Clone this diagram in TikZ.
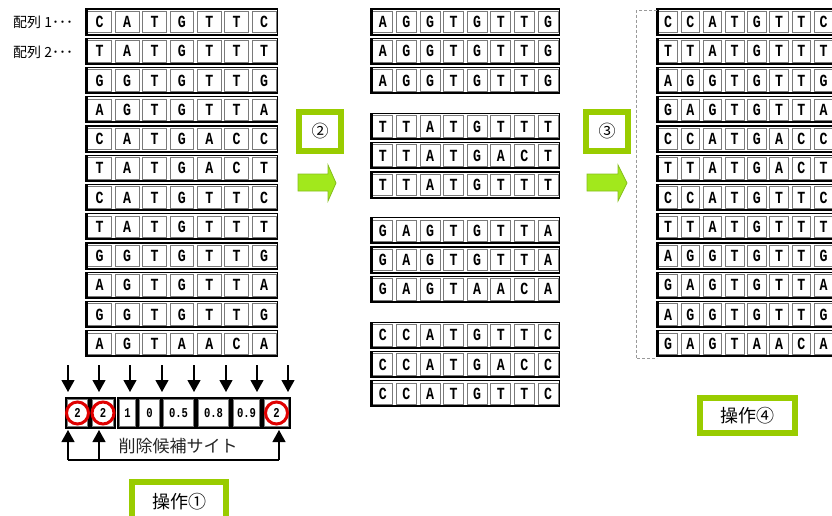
\documentclass[tikz,border=0pt]{standalone}
\usepackage{fontspec}
\setmainfont{Liberation Sans}
\newfontfamily\jpfont{Noto Sans CJK JP}
\newfontfamily\seqfont[FakeStretch=0.78]{Liberation Mono}
\usetikzlibrary{arrows.meta}
\definecolor{limeframe}{HTML}{99CC00}
\definecolor{arrowfill}{HTML}{A2E81C}
\definecolor{arrowline}{HTML}{86BE1E}
\definecolor{cellgray}{HTML}{7A7A7A}
\definecolor{circred}{HTML}{E00000}
\tikzset{
  seqcell/.style={rectangle, draw=cellgray, line width=0.9pt, inner sep=0pt,
    minimum height=21.5pt, font=\seqfont\bfseries\fontsize{17}{17}\selectfont},
  rowframe/.style={draw=black, line width=1.2pt},
  scorebox/.style={rectangle, draw=black, line width=2pt, inner sep=0pt,
    minimum height=30pt, font=\seqfont\bfseries\fontsize{13.5}{13.5}\selectfont},
  limebox/.style={draw=limeframe, line width=5.5pt, fill=white},
  jptext/.style={font=\jpfont\fontsize{14}{14}\selectfont, inner sep=0pt},
  downarr/.style={line width=1.2pt, -{Triangle[width=13pt,length=12pt]}},
  uparr/.style={line width=1.2pt, -{Triangle[width=13pt,length=12pt]}},
  bigarrow/.style={fill=arrowfill, draw=arrowline, line width=0.8pt},
  redring/.style={draw=circred, line width=3pt},
  bracketline/.style={draw=gray!80, line width=0.8pt, dash pattern=on 3pt off 2pt}
}
\newcommand{\seqrow}[5]{%
  \foreach \seqch [count=\ci] in {#5} {%
    \node[seqcell, minimum width={(#4-3.5)*1pt}] (#1-\ci) at ({#2+(\ci-0.5)*#4},{#3+13}) {\seqch};
    \xdef\seqncols{\ci}%
  }%
  \draw[rowframe] (#2,#3) rectangle ({#2+\seqncols*#4},{#3+26});
  \draw[line width=2.4pt] ({#2+0.6},#3) -- ({#2+0.6},{#3+26});
  \draw[line width=1.8pt] (#2,{#3+25.5}) -- ({#2+\seqncols*#4},{#3+25.5});
}
\begin{document}
\begin{tikzpicture}[x=1pt,y=-1pt]
\useasboundingbox (0,0) rectangle (832,515);
\clip (0,0) rectangle (832,515);
\fill[white] (0,0) rectangle (832,515);

% labels
\node[jptext, anchor=west] (lab1) at (13,22) {配列 1･･･};
\node[jptext, anchor=west] (lab2) at (13,52) {配列 2･･･};

% left block
\def\lx{86}\def\lp{27.4}
\seqrow{La}{\lx}{9}{\lp}{C,A,T,G,T,T,C}
\seqrow{Lb}{\lx}{38.25}{\lp}{T,A,T,G,T,T,T}
\seqrow{Lc}{\lx}{67.5}{\lp}{G,G,T,G,T,T,G}
\seqrow{Ld}{\lx}{96.75}{\lp}{A,G,T,G,T,T,A}
\seqrow{Le}{\lx}{126}{\lp}{C,A,T,G,A,C,C}
\seqrow{Lf}{\lx}{155.25}{\lp}{T,A,T,G,A,C,T}
\seqrow{Lg}{\lx}{184.5}{\lp}{C,A,T,G,T,T,C}
\seqrow{Lh}{\lx}{213.75}{\lp}{T,A,T,G,T,T,T}
\seqrow{Li}{\lx}{243}{\lp}{G,G,T,G,T,T,G}
\seqrow{Lj}{\lx}{272.25}{\lp}{A,G,T,G,T,T,A}
\seqrow{Lk}{\lx}{301.5}{\lp}{G,G,T,G,T,T,G}
\seqrow{Ll}{\lx}{330.75}{\lp}{A,G,T,A,A,C,A}

% middle block
\def\mx{371}\def\mp{23.6}
\seqrow{Ma}{\mx}{9}{\mp}{A,G,G,T,G,T,T,G}
\seqrow{Mb}{\mx}{38.25}{\mp}{A,G,G,T,G,T,T,G}
\seqrow{Mc}{\mx}{67.5}{\mp}{A,G,G,T,G,T,T,G}
\seqrow{Md}{\mx}{113.4}{\mp}{T,T,A,T,G,T,T,T}
\seqrow{Me}{\mx}{142.65}{\mp}{T,T,A,T,G,A,C,T}
\seqrow{Mf}{\mx}{171.9}{\mp}{T,T,A,T,G,T,T,T}
\seqrow{Mg}{\mx}{217.8}{\mp}{G,A,G,T,G,T,T,A}
\seqrow{Mh}{\mx}{247.05}{\mp}{G,A,G,T,G,T,T,A}
\seqrow{Mi}{\mx}{276.3}{\mp}{G,A,G,T,A,A,C,A}
\seqrow{Mj}{\mx}{322.2}{\mp}{C,C,A,T,G,T,T,C}
\seqrow{Mk}{\mx}{351.45}{\mp}{C,C,A,T,G,A,C,C}
\seqrow{Ml}{\mx}{380.7}{\mp}{C,C,A,T,G,T,T,C}

% right block
\def\rx{657}\def\rp{22.2}
\seqrow{Ra}{\rx}{9}{\rp}{C,C,A,T,G,T,T,C}
\seqrow{Rb}{\rx}{38.25}{\rp}{T,T,A,T,G,T,T,T}
\seqrow{Rc}{\rx}{67.5}{\rp}{A,G,G,T,G,T,T,G}
\seqrow{Rd}{\rx}{96.75}{\rp}{G,A,G,T,G,T,T,A}
\seqrow{Re}{\rx}{126}{\rp}{C,C,A,T,G,A,C,C}
\seqrow{Rf}{\rx}{155.25}{\rp}{T,T,A,T,G,A,C,T}
\seqrow{Rg}{\rx}{184.5}{\rp}{C,C,A,T,G,T,T,C}
\seqrow{Rh}{\rx}{213.75}{\rp}{T,T,A,T,G,T,T,T}
\seqrow{Ri}{\rx}{243}{\rp}{A,G,G,T,G,T,T,G}
\seqrow{Rj}{\rx}{272.25}{\rp}{G,A,G,T,G,T,T,A}
\seqrow{Rk}{\rx}{301.5}{\rp}{A,G,G,T,G,T,T,G}
\seqrow{Rl}{\rx}{330.75}{\rp}{G,A,G,T,A,A,C,A}

% dashed bracket
\coordinate (bt) at (657,10.5);
\coordinate (bb) at (657,358.5);
\draw[bracketline] (bt) -- (636,10.5) -- (636,358.5) -- (bb);

% step boxes and arrows
\draw[limebox] (299,112) rectangle (341,151);
\node[jptext, font=\jpfont\fontsize{17}{17}\selectfont] (n2) at (320,131.5) {②};
\draw[bigarrow] (298,174) -- (328,174) -- (328,165) -- (336,183) -- (328,201) -- (328,191) -- (298,191) -- cycle;

\draw[limebox] (586,112) rectangle (628,151);
\node[jptext, font=\jpfont\fontsize{17}{17}\selectfont] (n3) at (607,131.5) {③};
\draw[bigarrow] (587,174) -- (618,174) -- (618,165) -- (627,183) -- (618,201) -- (618,191) -- (587,191) -- cycle;

\draw[limebox] (700,398) rectangle (795,433);
\node[jptext, font=\jpfont\fontsize{18}{18}\selectfont] (op4) at (747.5,415.5) {操作④};

\draw[limebox] (132,482) rectangle (226,522);
\node[jptext, font=\jpfont\fontsize{18}{18}\selectfont] (op1) at (179,502) {操作①};

% score row
\node[scorebox, minimum width=23pt] (s1) at (77.5,413) {2};
\node[scorebox, minimum width=24pt] (s2) at (103,413) {2};
\node[scorebox, minimum width=19pt] (s3) at (127.5,413) {1};
\node[scorebox, minimum width=23pt] (s4) at (149.5,413) {0};
\node[scorebox, minimum width=33pt] (s5) at (178.5,413) {0.5};
\node[scorebox, minimum width=33pt] (s6) at (213.5,413) {0.8};
\node[scorebox, minimum width=29pt] (s7) at (246.5,413) {0.9};
\node[scorebox, minimum width=27pt] (s8) at (276.5,413) {2};
\foreach \sb in {s1,s2,s3,s4,s5,s6,s7,s8} {
  \draw[cellgray, line width=0.8pt] ([shift={(2.5,2.5)}]\sb.north west) rectangle ([shift={(-2.5,-2.5)}]\sb.south east);
}
\draw[redring] (s1.center) circle (11);
\draw[redring] (s2.center) circle (11);
\draw[redring] (s8.center) circle (11);

% down arrows
\foreach \ax [count=\k] in {68,99,130,162,194,226,257,288} {
  \coordinate (dt\k) at (\ax,365);
  \coordinate (db\k) at (\ax,392);
  \draw[downarr] (dt\k) -- (db\k);
}

% up arrows to deletion candidates
\coordinate (u1) at (68,460);
\coordinate (u2) at (99,460);
\coordinate (u8) at (279,460);
\coordinate (ut1) at (68,430);
\coordinate (ut2) at (99,430);
\coordinate (ut8) at (279,430);
\draw[line width=1.2pt] (u1) -- (u8);
\draw[uparr] (u1) -- (ut1);
\draw[uparr] (u2) -- (ut2);
\draw[uparr] (u8) -- (ut8);
\node[jptext, font=\jpfont\fontsize{17}{17}\selectfont, text=black!85] (cand) at (178,446) {削除候補サイト};
\end{tikzpicture}
\end{document}
